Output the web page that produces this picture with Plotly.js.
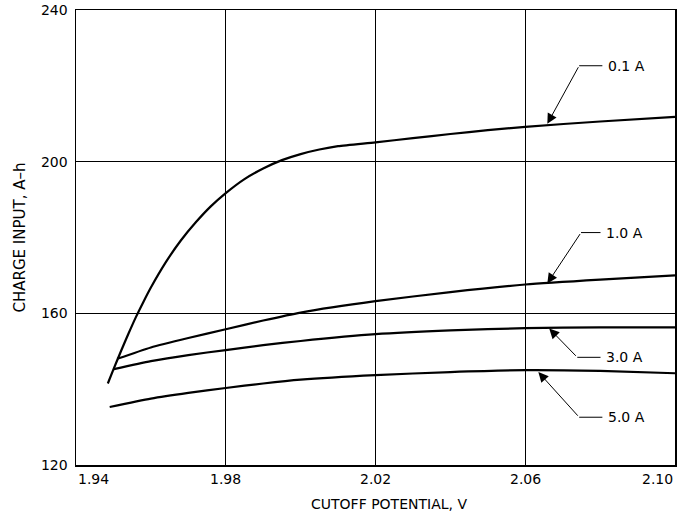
<!DOCTYPE html>
<html>
<head>
<meta charset="utf-8">
<script src="https://cdn.plot.ly/plotly-3.0.1.min.js"></script>
<style>html,body{margin:0;padding:0;background:#fff;}#chart{width:680px;height:518px;}</style>
</head>
<body>
<div id="chart"></div>
<script>
// Cutoff potential (V) and charge input (A-h) per discharge current
var x01 = [1.9485, 1.950, 1.952, 1.954, 1.956, 1.958, 1.960, 1.964, 1.968, 1.972, 1.976, 1.980, 1.985, 1.990, 1.995, 2.000, 2.005, 2.010, 2.020, 2.030, 2.040, 2.050, 2.060, 2.080, 2.100];
var y01 = [141.5, 145.2, 150.0, 154.6, 159.0, 163.0, 166.8, 173.5, 179.2, 184.0, 188.2, 191.7, 195.4, 198.2, 200.4, 202.0, 203.2, 204.1, 205.1, 206.2, 207.3, 208.3, 209.2, 210.6, 211.8];

var x10 = [1.9510, 1.9600, 1.9700, 1.9800, 1.9900, 2.0000, 2.0200, 2.0400, 2.0600, 2.0800, 2.1000];
var y10 = [148.0, 151.0, 153.5, 155.8, 158.1, 160.2, 163.2, 165.6, 167.6, 168.9, 170.0];

var x30 = [1.9501, 1.9600, 1.9700, 1.9800, 1.9900, 2.0000, 2.0200, 2.0400, 2.0600, 2.0800, 2.1000];
var y30 = [145.3, 147.4, 149.0, 150.3, 151.6, 152.7, 154.5, 155.5, 156.1, 156.3, 156.3];

var x50 = [1.9490, 1.9600, 1.9700, 1.9800, 1.9900, 2.0000, 2.0200, 2.0400, 2.0600, 2.0800, 2.1000];
var y50 = [135.3, 137.5, 139.0, 140.3, 141.5, 142.5, 143.7, 144.5, 145.0, 144.8, 144.2];

var seriesNames = ['0.1 A', '1.0 A', '3.0 A', '5.0 A'];
// callout geometry in data coords: text left edge, leader elbow, arrow tip
var labelX = [2.0816, 2.0811, 2.0811, 2.0816];
var labelY = [225.3, 181.3, 148.4, 132.6];
var elbowX = [2.0744, 2.0749, 2.0739, 2.0744];
var tipX = [2.0659, 2.0659, 2.0664, 2.0635];
var tipY = [210.0, 167.9, 156.0, 144.5];

var xTickVals = [1.94, 1.98, 2.02, 2.06, 2.10];
var xTickText = ['1.94', '1.98', '2.02', '2.06', '2.10'];
var yTickVals = [120, 160, 200, 240];

var FONT = '"DejaVu Sans", Lato, sans-serif';
var line = {color: '#000', width: 2.2, shape: 'spline', smoothing: 0.6};
var traces = [
  {x: x01, y: y01, mode: 'lines', line: line, name: seriesNames[0]},
  {x: x10, y: y10, mode: 'lines', line: line, name: seriesNames[1]},
  {x: x30, y: y30, mode: 'lines', line: line, name: seriesNames[2]},
  {x: x50, y: y50, mode: 'lines', line: line, name: seriesNames[3]}
];

var annotations = [];
var shapes = [];
for (var i = 0; i < seriesNames.length; i++) {
  annotations.push({
    x: tipX[i], y: tipY[i], xref: 'x', yref: 'y',
    ax: elbowX[i], ay: labelY[i], axref: 'x', ayref: 'y',
    text: '', showarrow: true, arrowhead: 2, arrowsize: 2, arrowwidth: 1,
    arrowcolor: '#000', standoff: 0, startstandoff: 0
  });
  shapes.push({type: 'line', xref: 'x', yref: 'y', x0: elbowX[i], y0: labelY[i],
    x1: labelX[i] - 0.0010, y1: labelY[i], line: {color: '#000', width: 1}});
  annotations.push({
    x: labelX[i], y: labelY[i], xref: 'x', yref: 'y', xanchor: 'left', yanchor: 'middle',
    text: seriesNames[i], showarrow: false, font: {family: FONT, size: 14, color: '#000'}
  });
}
// x tick labels (ends pulled inward as in the original)
for (var j = 0; j < xTickVals.length; j++) {
  var anchor = j === 0 ? 'left' : (j === xTickVals.length - 1 ? 'right' : 'center');
  annotations.push({
    x: xTickVals[j], y: 0, xref: 'x', yref: 'paper', yanchor: 'top', xanchor: anchor, yshift: -4,
    text: xTickText[j], showarrow: false, font: {family: FONT, size: 14, color: '#000'}
  });
}
// x axis title
annotations.push({
  x: 2.0235, y: 0, xref: 'x', yref: 'paper', yanchor: 'top', xanchor: 'center', yshift: -29,
  text: 'CUTOFF POTENTIAL, V', showarrow: false, font: {family: FONT, size: 14, color: '#000'}
});

var layout = {
  width: 680, height: 518,
  margin: {l: 76, r: 5, t: 10, b: 53},
  paper_bgcolor: '#fff', plot_bgcolor: '#fff',
  showlegend: false,
  font: {family: FONT, color: '#000', size: 14},
  xaxis: {
    range: [1.94, 2.10], tickvals: xTickVals, showticklabels: false,
    showgrid: true, gridcolor: '#000', gridwidth: 1, zeroline: false,
    showline: true, linecolor: '#000', linewidth: 1.5, mirror: true, ticks: ''
  },
  yaxis: {
    range: [120, 240], tickvals: yTickVals,
    showgrid: true, gridcolor: '#000', gridwidth: 1, zeroline: false,
    showline: true, linecolor: '#000', linewidth: 1.5, mirror: true, ticks: '',
    ticklabelstandoff: 4,
    tickfont: {family: FONT, size: 14, color: '#000'},
    title: {text: 'CHARGE INPUT, A\u2013h', font: {family: FONT, size: 15, color: '#000'}, standoff: 11}
  },
  annotations: annotations,
  shapes: shapes
};

Plotly.newPlot('chart', traces, layout, {displayModeBar: false, staticPlot: true});
</script>
</body>
</html>
